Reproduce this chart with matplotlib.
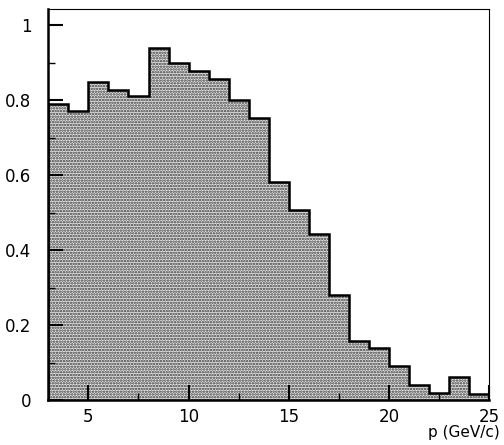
import numpy as np
import matplotlib.pyplot as plt
from matplotlib.ticker import MultipleLocator

# bin edges (GeV/c) and bin contents
edges = np.arange(3, 26, 1)
values = [0.789, 0.771, 0.849, 0.826, 0.811, 0.938, 0.900, 0.877, 0.856,
          0.800, 0.751, 0.582, 0.507, 0.442, 0.280, 0.158, 0.138, 0.092,
          0.040, 0.020, 0.062, 0.016]
yticks = [0, 0.2, 0.4, 0.6, 0.8, 1]
yticklabels = ['0', '0.2', '0.4', '0.6', '0.8', '1']

plt.rcParams['hatch.linewidth'] = 1.2

fig = plt.figure(figsize=(5.04, 4.45), dpi=100)
ax = fig.add_axes([0.0958, 0.101, 0.875, 0.878])

# stippled fill (hatch takes the edge colour)
ax.stairs(values, edges, fill=True, facecolor='#e8e8e8', edgecolor='#333333',
          hatch='......', linewidth=0)
ax.stairs(values, edges, fill=False, color='black', linewidth=1.8)

ax.set_xlim(3, 25)
ax.set_ylim(0, 1.042)
ax.set_xticks([5, 10, 15, 20, 25])
ax.set_yticks(yticks)
ax.set_yticklabels(yticklabels)
ax.xaxis.set_minor_locator(MultipleLocator(2.5))
ax.yaxis.set_minor_locator(MultipleLocator(0.1))
ax.tick_params(direction='in', which='major', length=11, width=1.5,
               labelsize=12, top=False, right=False)
ax.tick_params(direction='in', which='minor', length=5, width=1.0,
               top=False, right=False)
ax.tick_params(axis='x', which='major', pad=6)
ax.tick_params(axis='y', which='major', pad=12)

for s in ['left', 'bottom']:
    ax.spines[s].set_linewidth(1.8)
for s in ['top', 'right']:
    ax.spines[s].set_linewidth(0.8)

fig.text(0.992, 0.029, 'p (GeV/c)', ha='right', va='center', fontsize=11)

fig.savefig('out.png', dpi=100)
